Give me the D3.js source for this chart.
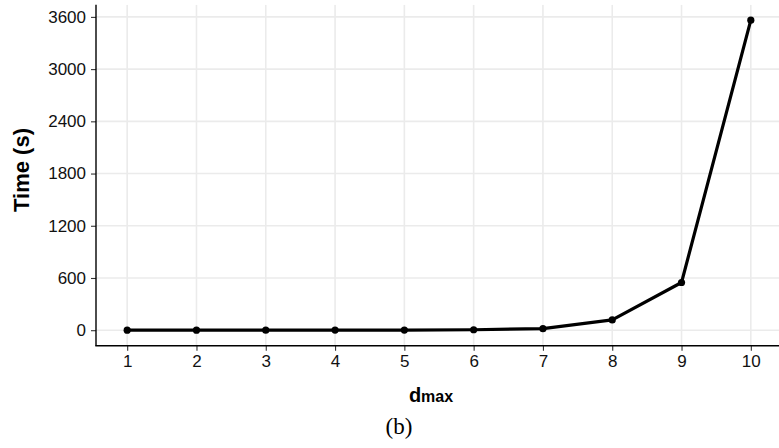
<!DOCTYPE html>
<meta charset="utf-8">
<div id="area"></div>
<script src="https://d3js.org/d3.v7.min.js"></script>
<style>
  body { margin: 0; background: #fff; font-family: "Liberation Sans", Arial, sans-serif; }
  svg { display: block; }
</style>
<script>
// data
var dmax = [1, 2, 3, 4, 5, 6, 7, 8, 9, 10];
var timeSec = [0.1, 0.2, 0.5, 1, 2, 5, 18, 118, 548, 3562];
var yTicks = [0, 600, 1200, 1800, 2400, 3000, 3600];

var W = 779, H = 448;
var pLeft = 96, pRight = 782, pTop = 4.7, pBottom = 345.7;

var svg = d3.select("#area").append("svg")
  .attr("width", W).attr("height", H);

var yMax = d3.max(timeSec);
var x = d3.scaleLinear().domain([0.55, 10.45]).range([pLeft, pRight]);
var y = d3.scaleLinear().domain([-0.05 * yMax, 1.05 * yMax]).range([pBottom, pTop]);

var panel = svg.append("g");
panel.append("clipPath").attr("id", "clip")
  .append("rect").attr("x", pLeft).attr("y", pTop).attr("width", W - pLeft).attr("height", pBottom - pTop);

// grid
var grid = panel.append("g").attr("clip-path", "url(#clip)");
grid.selectAll(".gx").data(dmax).enter().append("line")
  .attr("x1", function(d) { return x(d); }).attr("x2", function(d) { return x(d); })
  .attr("y1", pTop).attr("y2", pBottom)
  .attr("stroke", "#ebebeb").attr("stroke-width", 1.6);
grid.selectAll(".gy").data(yTicks).enter().append("line")
  .attr("x1", pLeft).attr("x2", W)
  .attr("y1", function(d) { return y(d); }).attr("y2", function(d) { return y(d); })
  .attr("stroke", "#ebebeb").attr("stroke-width", 1.6);

// line and points
var line = d3.line()
  .x(function(d, i) { return x(dmax[i]); })
  .y(function(d) { return y(d); });
panel.append("path").datum(timeSec)
  .attr("d", line).attr("fill", "none")
  .attr("stroke", "#000").attr("stroke-width", 3.2)
  .attr("stroke-linejoin", "round");
panel.selectAll(".pt").data(timeSec).enter().append("circle")
  .attr("cx", function(d, i) { return x(dmax[i]); })
  .attr("cy", function(d) { return y(d); })
  .attr("r", 3.6).attr("fill", "#000");

// axes
var xAxis = svg.append("g").attr("transform", "translate(0," + pBottom + ")")
  .call(d3.axisBottom(x).tickValues(dmax).tickFormat(d3.format("d"))
    .tickSize(5).tickPadding(4).tickSizeOuter(0));
var yAxis = svg.append("g").attr("transform", "translate(" + pLeft + ",0)")
  .call(d3.axisLeft(y).tickValues(yTicks).tickFormat(d3.format("d"))
    .tickSize(5).tickPadding(5).tickSizeOuter(0));

[xAxis, yAxis].forEach(function(a) {
  a.select(".domain").remove();
  a.selectAll("line").attr("stroke", "#333").attr("stroke-width", 1.1);
  a.selectAll("text").attr("fill", "#111")
    .style("font-size", "17px").style("font-family", "'Liberation Sans', Arial, sans-serif");
});

svg.append("line").attr("x1", pLeft).attr("x2", pLeft).attr("y1", pTop).attr("y2", pBottom)
  .attr("stroke", "#000").attr("stroke-width", 1.4);
svg.append("line").attr("x1", pLeft - 0.7).attr("x2", W).attr("y1", pBottom).attr("y2", pBottom)
  .attr("stroke", "#000").attr("stroke-width", 1.4);

// titles
svg.append("text")
  .attr("transform", "translate(29,170) rotate(-90)")
  .attr("text-anchor", "middle")
  .style("font-weight", "bold").style("font-size", "22px")
  .text("Time (s)");

var xt = svg.append("text")
  .attr("x", 431).attr("y", 401.5)
  .attr("text-anchor", "middle")
  .style("font-weight", "bold");
xt.append("tspan").style("font-size", "20px").text("d");
xt.append("tspan").style("font-size", "16px").text("max");

svg.append("text")
  .attr("x", 399).attr("y", 434)
  .attr("text-anchor", "middle")
  .style("font-family", "'Liberation Serif', 'DejaVu Serif', serif")
  .style("font-size", "23px")
  .text("(b)");
</script>
